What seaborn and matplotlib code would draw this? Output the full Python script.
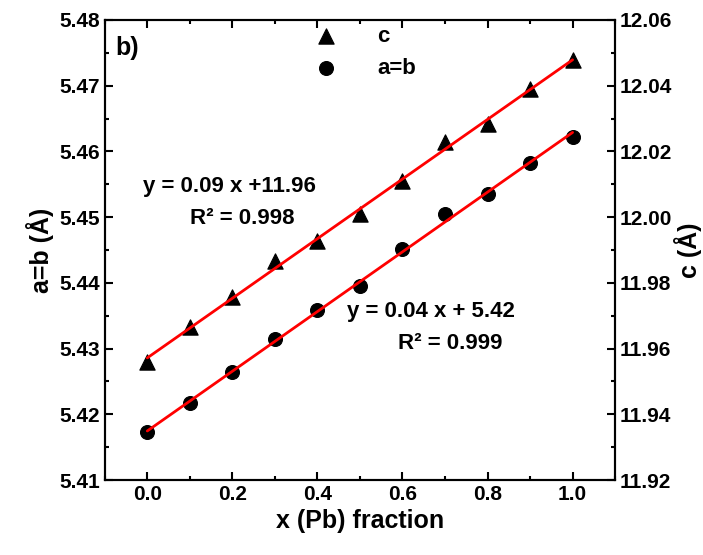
import numpy as np
import matplotlib
matplotlib.use("Agg")
import matplotlib.pyplot as plt
import seaborn as sns
from matplotlib.ticker import MultipleLocator, FormatStrFormatter

x_frac = [0.0, 0.1, 0.2, 0.3, 0.4, 0.5, 0.6, 0.7, 0.8, 0.9, 1.0]
ab_vals = [5.4173, 5.4218, 5.4264, 5.4314, 5.4358, 5.4396, 5.4451, 5.4505, 5.4536, 5.4583, 5.4622]
c_vals = [11.956, 11.9666, 11.9756, 11.9868, 11.9926, 12.001, 12.011, 12.023, 12.0284, 12.039, 12.0478]

sns.set_style("ticks")
plt.rcParams['font.family'] = ['Liberation Sans', 'DejaVu Sans']
plt.rcParams['font.weight'] = 'bold'
plt.rcParams['axes.labelweight'] = 'bold'
plt.rcParams['xtick.direction'] = 'in'
plt.rcParams['ytick.direction'] = 'in'
plt.rcParams['text.color'] = 'black'
plt.rcParams['axes.labelcolor'] = 'black'
plt.rcParams['xtick.color'] = 'black'
plt.rcParams['ytick.color'] = 'black'
plt.rcParams['axes.edgecolor'] = 'black'

fig = plt.figure(figsize=(7.03, 5.55), dpi=100)
ax = fig.add_axes([0.149, 0.135, 0.726, 0.829])
ax2 = ax.twinx()

sns.scatterplot(x=x_frac, y=ab_vals, ax=ax, marker='o', color='black', s=100, edgecolor='black', label='a=b', legend=False)
sns.scatterplot(x=x_frac, y=c_vals, ax=ax2, marker='^', color='black', s=120, edgecolor='black', label='c', legend=False)

xs = np.array([0.0, 1.0])
p1 = np.polyfit(x_frac, ab_vals, 1)
p2 = np.polyfit(x_frac, c_vals, 1)
ax.plot(xs, np.polyval(p1, xs), color='red', lw=2, zorder=3)
ax2.plot(xs, np.polyval(p2, xs), color='red', lw=2, zorder=3)

ax.set_xlim(-0.1, 1.1)
ax.set_ylim(5.41, 5.48)
ax2.set_ylim(11.92, 12.06)
ax.xaxis.set_major_locator(MultipleLocator(0.2))
ax.xaxis.set_minor_locator(MultipleLocator(0.1))
ax.yaxis.set_major_locator(MultipleLocator(0.01))
ax.yaxis.set_minor_locator(MultipleLocator(0.005))
ax2.yaxis.set_major_locator(MultipleLocator(0.02))
ax2.yaxis.set_minor_locator(MultipleLocator(0.01))
ax.yaxis.set_major_formatter(FormatStrFormatter('%.2f'))
ax2.yaxis.set_major_formatter(FormatStrFormatter('%.2f'))

for a in (ax, ax2):
    a.tick_params(which='major', length=6, width=1.5, labelsize=15)
    a.tick_params(which='minor', length=3, width=1.5)
    for s in a.spines.values():
        s.set_linewidth(1.5)
ax.tick_params(axis='x', which='both', top=True)

ax.set_xlabel('x (Pb) fraction', fontsize=18)
ax.set_ylabel('a=b (Å)', fontsize=18)
ax2.set_ylabel('c (Å)', fontsize=18, labelpad=1)

ax.text(0.02, 0.965, 'b)', transform=ax.transAxes, fontsize=18, va='top')
ax.text(-0.01, 5.4547, 'y = 0.09 x +11.96', fontsize=16, va='center')
ax.text(0.10, 5.4498, 'R² = 0.998', fontsize=16, va='center')
ax.text(0.47, 5.4356, 'y = 0.04 x + 5.42', fontsize=16, va='center')
ax.text(0.59, 5.4308, 'R² = 0.999', fontsize=16, va='center')

h1, l1 = ax.get_legend_handles_labels()
h2, l2 = ax2.get_legend_handles_labels()
ax.legend(h2 + h1, l2 + l1, loc='upper center', frameon=False, fontsize=16,
          bbox_to_anchor=(0.5, 1.03), handletextpad=1.3)

fig.savefig('out.png', dpi=100)
